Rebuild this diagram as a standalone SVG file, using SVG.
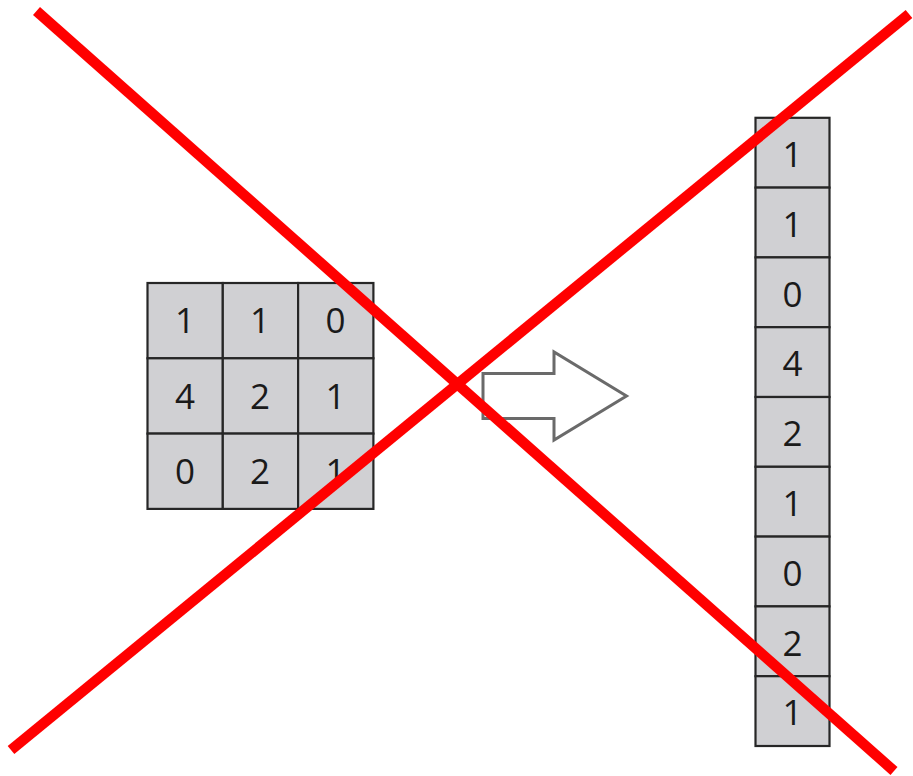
<svg xmlns="http://www.w3.org/2000/svg" width="913" height="776" viewBox="0 0 913 776">
  <style>
    .cell { fill: #d0d0d3; stroke: #262626; stroke-width: 2.2; }
    .num { font-family: "Open Sans", "Liberation Sans", sans-serif; font-size: 35px; fill: #1a1a1a; text-anchor: middle; }
    .arrow { fill: #ffffff; stroke: #6a6a6a; stroke-width: 3; stroke-linejoin: miter; }
    .cross { stroke: #ff0000; stroke-width: 10.5; stroke-linecap: butt; }
  </style>
  <defs>
    <filter id="soft" x="-5%" y="-5%" width="110%" height="110%">
      <feGaussianBlur stdDeviation="0.6"/>
    </filter>
  </defs>
  <rect width="913" height="776" fill="#ffffff"/>

  <!-- 3x3 input matrix -->
  <g id="matrix">
    <rect class="cell" x="147.5" y="283" width="75.3" height="75.3"/>
    <rect class="cell" x="222.8" y="283" width="75.3" height="75.3"/>
    <rect class="cell" x="298.1" y="283" width="75.3" height="75.3"/>
    <rect class="cell" x="147.5" y="358.3" width="75.3" height="75.3"/>
    <rect class="cell" x="222.8" y="358.3" width="75.3" height="75.3"/>
    <rect class="cell" x="298.1" y="358.3" width="75.3" height="75.3"/>
    <rect class="cell" x="147.5" y="433.6" width="75.3" height="75.3"/>
    <rect class="cell" x="222.8" y="433.6" width="75.3" height="75.3"/>
    <rect class="cell" x="298.1" y="433.6" width="75.3" height="75.3"/>
    <text class="num" x="185" y="333">1</text>
    <text class="num" x="260" y="333">1</text>
    <text class="num" x="335.5" y="333">0</text>
    <text class="num" x="185" y="408.5">4</text>
    <text class="num" x="260" y="408.5">2</text>
    <text class="num" x="335.5" y="408.5">1</text>
    <text class="num" x="185" y="483.5">0</text>
    <text class="num" x="260" y="483.5">2</text>
    <text class="num" x="335.5" y="483.5">1</text>
  </g>

  <!-- flatten arrow -->
  <g id="arrow" filter="url(#soft)">
    <polygon class="arrow" points="483,373.5 554,373.5 554,352 626.5,396 554,440 554,418.5 483,418.5"/>
  </g>

  <!-- 9x1 flattened column -->
  <g id="column">
    <rect class="cell" x="755.5" y="117.8" width="74" height="69.8"/>
    <rect class="cell" x="755.5" y="187.6" width="74" height="69.8"/>
    <rect class="cell" x="755.5" y="257.4" width="74" height="69.8"/>
    <rect class="cell" x="755.5" y="327.2" width="74" height="69.8"/>
    <rect class="cell" x="755.5" y="397" width="74" height="69.8"/>
    <rect class="cell" x="755.5" y="466.8" width="74" height="69.8"/>
    <rect class="cell" x="755.5" y="536.6" width="74" height="69.8"/>
    <rect class="cell" x="755.5" y="606.4" width="74" height="69.8"/>
    <rect class="cell" x="755.5" y="676.2" width="74" height="69.8"/>
    <text class="num" x="792.5" y="167">1</text>
    <text class="num" x="792.5" y="236.8">1</text>
    <text class="num" x="792.5" y="306.6">0</text>
    <text class="num" x="792.5" y="376.4">4</text>
    <text class="num" x="792.5" y="446.2">2</text>
    <text class="num" x="792.5" y="516">1</text>
    <text class="num" x="792.5" y="585.8">0</text>
    <text class="num" x="792.5" y="655.6">2</text>
    <text class="num" x="792.5" y="725.4">1</text>
  </g>

  <!-- red cross over everything -->
  <g id="connectors">
    <line class="cross" x1="36.5" y1="11" x2="894" y2="771"/>
    <line class="cross" x1="909" y1="14" x2="11" y2="750"/>
  </g>
</svg>
